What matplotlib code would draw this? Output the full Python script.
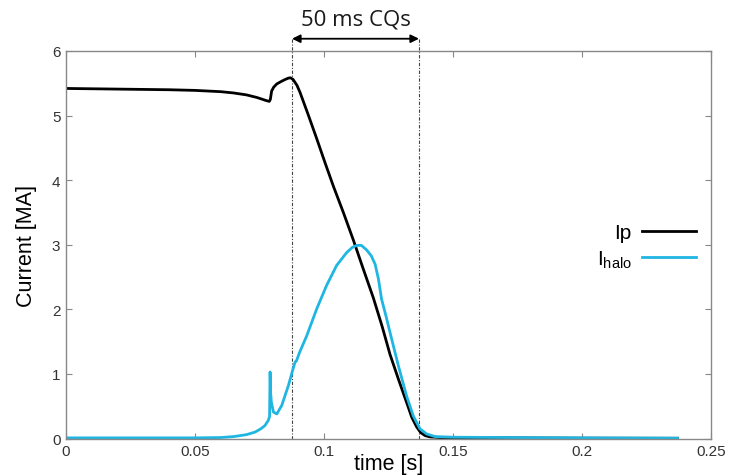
import matplotlib
matplotlib.use("Agg")
import matplotlib.pyplot as plt

# Plasma current Ip during the disruption
t_ip = [0, 0.01, 0.02, 0.03, 0.04, 0.05, 0.055, 0.06, 0.065, 0.07, 0.074,
        0.0778, 0.0788, 0.0792, 0.0797, 0.0805, 0.0817, 0.0835, 0.085, 0.0862,
        0.0870, 0.0880, 0.0895, 0.0907, 0.0940, 0.0972, 0.1004, 0.1036, 0.1075,
        0.1114, 0.1150, 0.1191, 0.1225, 0.1256, 0.1290, 0.1320, 0.1340, 0.1359,
        0.1375, 0.1392, 0.1411, 0.1450, 0.1700, 0.2000, 0.2370]
ip = [5.42, 5.415, 5.41, 5.405, 5.40, 5.39, 5.38, 5.37, 5.35, 5.32, 5.28,
      5.23, 5.22, 5.25, 5.38, 5.44, 5.49, 5.53, 5.56, 5.58,
      5.585, 5.56, 5.47, 5.36, 5.00, 4.64, 4.27, 3.91, 3.50,
      3.07, 2.65, 2.18, 1.74, 1.30, 0.90, 0.56, 0.33, 0.18,
      0.09, 0.045, 0.025, 0.015, 0.01, 0.005, 0.003]

# Halo current
t_halo = [0, 0.02, 0.04, 0.05, 0.06, 0.065, 0.07, 0.0733, 0.0755, 0.0771,
          0.0784, 0.0789, 0.0791, 0.0793, 0.0796, 0.0804, 0.0817, 0.0836,
          0.0862, 0.0878, 0.0886, 0.0889, 0.0893, 0.0905, 0.0933, 0.0972,
          0.1010, 0.1049, 0.1088, 0.1110, 0.1127, 0.1145, 0.1165, 0.1183,
          0.1198, 0.1211, 0.1223, 0.1240, 0.1256, 0.1288, 0.1320, 0.1346,
          0.1372, 0.1398, 0.143, 0.15, 0.17, 0.2, 0.237]
halo = [0.01, 0.01, 0.01, 0.01, 0.015, 0.03, 0.06, 0.10, 0.15, 0.20,
        0.28, 0.34, 1.03, 0.72, 0.56, 0.41, 0.38, 0.51,
        0.82, 1.05, 1.16, 1.19, 1.20, 1.33, 1.59, 2.01,
        2.37, 2.68, 2.88, 2.96, 2.99, 2.99, 2.92, 2.83,
        2.70, 2.47, 2.16, 1.90, 1.64, 1.13, 0.66, 0.35,
        0.15, 0.07, 0.03, 0.02, 0.015, 0.01, 0.006]

# Current-quench window
cq_start, cq_end = 0.0876, 0.1368
cq_label = "50 ms CQs"

x_ticks = [0, 0.05, 0.1, 0.15, 0.2, 0.25]
x_tick_labels = ["0", "0.05", "0.1", "0.15", "0.2", "0.25"]
y_ticks = [0, 1, 2, 3, 4, 5, 6]

plt.rcParams["font.family"] = ["Liberation Sans", "DejaVu Sans"]

fig = plt.figure(figsize=(7.30, 4.77), dpi=100)
ax = fig.add_axes([0.0904, 0.0786, 0.8836, 0.8124])

ax.plot(t_ip, ip, color="black", lw=2.0, label="Ip", solid_joinstyle="round")
ax.plot(t_halo, halo, color="#1fb6e2", lw=2.0,
        label=r"$\mathregular{I_{halo}}$", solid_joinstyle="round")

ax.set_xlim(0, 0.25)
ax.set_ylim(0, 6)
ax.set_xticks(x_ticks)
ax.set_xticklabels(x_tick_labels)
ax.set_yticks(y_ticks)

for s in ax.spines.values():
    s.set_color("#888888")
    s.set_linewidth(1.0)
ax.tick_params(direction="in", length=4, width=0.8, color="#888888",
               top=True, right=True, labelsize=11, labelcolor="#333333", pad=4)

ax.set_xlabel("time [s]", fontsize=15.5, labelpad=-4)
ax.set_ylabel("Current [MA]", fontsize=15.5, labelpad=11)

# Vertical markers of the quench window, extended above the frame
y_top = 6.19
for xv in (cq_start, cq_end):
    ax.plot([xv, xv], [0, y_top], color="#444444", lw=0.8,
            linestyle=(0, (3, 1.5, 1, 1.5)), clip_on=False, zorder=1)
ax.annotate("", xy=(cq_end, y_top), xytext=(cq_start, y_top),
            arrowprops=dict(arrowstyle="<|-|>", color="black", lw=1.3,
                            mutation_scale=12, shrinkA=0, shrinkB=0),
            annotation_clip=False)
ax.text((cq_start + cq_end) / 2, 6.49, cq_label, ha="center", va="center",
        fontsize=16, family=["Open Sans", "DejaVu Sans"], color="#1a1a1a")

leg = ax.legend(loc="center right", bbox_to_anchor=(0.99, 0.495),
                frameon=False, markerfirst=False, fontsize=15,
                handlelength=2.6, handletextpad=0.5, labelspacing=0.3,
                borderaxespad=0)

fig.savefig("out.png", dpi=100)
